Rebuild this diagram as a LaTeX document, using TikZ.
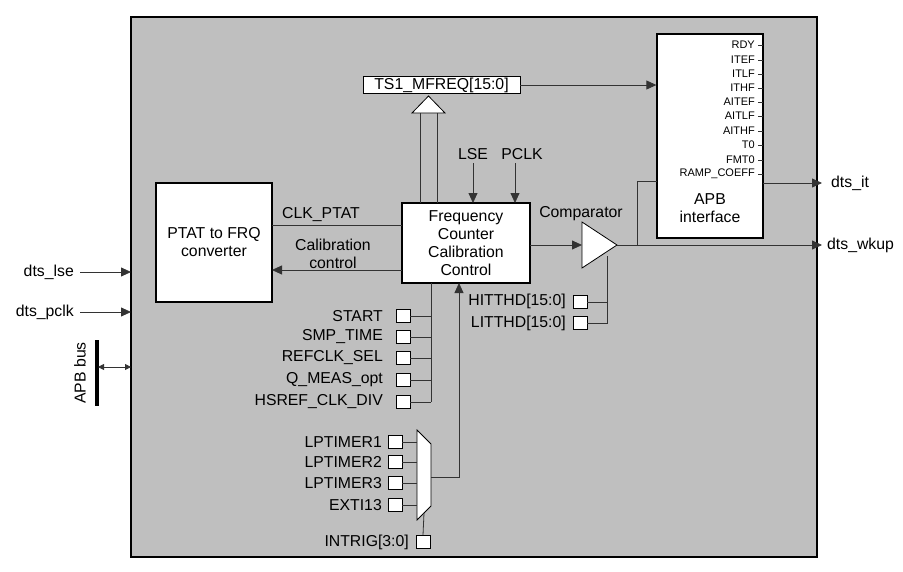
\documentclass[tikz,border=0pt]{standalone}
\usepackage{fontspec}
\setmainfont{Liberation Sans}
\usetikzlibrary{arrows.meta}
\begin{document}
\begin{tikzpicture}[x=1pt,y=-1pt,
  blk/.style={draw,line width=1.3pt,fill=white},
  wire/.style={draw,line width=0.8pt,black!80},
  arr/.style={wire,-{Triangle[length=10pt,width=9pt]}},
  reg/.style={draw,line width=0.7pt,fill=white,minimum width=14pt,minimum height=13pt,inner sep=0},
  lbl/.style={font=\fontsize{15.8}{18}\selectfont,inner sep=1pt},
  sml/.style={font=\fontsize{11}{12}\selectfont,inner sep=0,anchor=east}]
\useasboundingbox (0,0) rectangle (903,571);
\draw[line width=1.3pt,fill=black!25] (131,17) rectangle (817,557);
% blocks
\node[blk,minimum width=116pt,minimum height=119pt,align=center,lbl] (ptat) at (214,242.5) {PTAT to FRQ\\converter};
\node[blk,minimum width=128pt,minimum height=80pt,align=center,lbl] (fcc) at (466,243) {Frequency\\Counter\\Calibration\\Control};
\node[draw,line width=0.8pt,fill=white,minimum width=157pt,minimum height=16pt,inner sep=0,lbl] (ts1) at (441.5,85) {TS1\_MFREQ[15:0]};
\node[blk,minimum width=106pt,minimum height=204pt] (apb) at (710,136) {};
\node[lbl,align=center] (apbt) at (710,208) {APB\\interface};
\foreach \t/\y in {RDY/45,ITEF/60,ITLF/74,ITHF/88,AITEF/102,AITLF/116,AITHF/131,T0/145,FMT0/160,RAMP\_COEFF/174}{
  \node[sml] (s\y) at (755,\y) {\t};
  \draw[wire] (758,\y) -- (763,\y);
}
% comparator
\draw[line width=0.8pt,fill=white] (582,222) -- (617,245) -- (582,268) -- cycle;
\coordinate (cmpin) at (582,245);
\coordinate (cmpout) at (617,245);
\node[lbl] (cmpl) at (581,214) {Comparator};
% hollow arrow
\draw[wire] (420,203) -- (420,113);
\draw[wire] (437,203) -- (437,113);
\draw[line width=0.8pt,fill=white] (412,113) -- (428.5,96) -- (445,113) -- cycle;
\draw[arr] (ts1.east) -- (apb.west |- ts1.east);
% LSE / PCLK
\node[lbl] (lse) at (473,154) {LSE};
\node[lbl] (pclk) at (522,154) {PCLK};
\draw[arr] (473,163) -- (473,203);
\draw[arr] (515,163) -- (515,203);
% PTAT links
\draw[wire] (272,225) -- (402,225);
\node[lbl] (clkp) at (321,215) {CLK\_PTAT};
\draw[arr] (402,270) -- (272,270);
\node[lbl,align=center] (calc) at (333,254) {Calibration\\control};
% FCC to comparator
\draw[arr] (530,245) -- (cmpin);
\draw[arr] (cmpout) -- (822,245);
\draw[wire] (637,245) -- (637,181) -- (657,181);
\draw[arr] (763,183) -- (822,183);
\node[lbl,anchor=west] (dit) at (830,183) {dts\_it};
\node[lbl,anchor=west] (dwk) at (826,245) {dts\_wkup};
% thresholds
\node[reg] (hit) at (580,302) {};
\node[reg] (lit) at (580,323) {};
\node[lbl,anchor=east] at (567,301) {HITTHD[15:0]};
\node[lbl,anchor=east] at (567,323) {LITTHD[15:0]};
\draw[wire] (607,256) -- (607,323) -- (lit.east);
\draw[wire] (hit.east) -- (607,302);
% left inputs
\node[lbl,anchor=east] (lse2) at (75,272) {dts\_lse};
\node[lbl,anchor=east] (pck2) at (75,312) {dts\_pclk};
\draw[arr] (80,272) -- (131,272);
\draw[arr] (80,312) -- (131,312);
\draw[line width=3.5pt] (97,340) -- (97,406);
\draw[wire,{Triangle[length=6pt,width=6pt]}-{Triangle[length=6pt,width=6pt]}] (98,367) -- (131,367);
\node[lbl,rotate=90] (apbbus) at (80,373) {APB bus};
% registers
\draw[wire] (431,283) -- (431,402);
\foreach \t/\y in {START/316,SMP\_TIME/337,REFCLK\_SEL/358,Q\_MEAS\_opt/380,HSREF\_CLK\_DIV/402}{
  \node[reg] (r\y) at (403,\y) {};
  \node[lbl,anchor=east] at (384,\y) {\t};
  \draw[wire] (r\y.east) -- (431,\y);
}
% mux
\draw[line width=0.8pt,fill=white] (417,430) -- (431,444) -- (431,506) -- (417,520) -- cycle;
\foreach \t/\y in {LPTIMER1/442,LPTIMER2/462,LPTIMER3/483,EXTI13/505}{
  \node[reg] (m\y) at (395,\y) {};
  \node[lbl,anchor=east] at (383,\y) {\t};
  \draw[wire] (m\y.east) -- (417,\y);
}
\draw[arr] (431,477) -- (459,477) -- (459,283);
\node[reg] (intr) at (423,542) {};
\node[lbl,anchor=east] at (410,542) {INTRIG[3:0]};
\draw[wire] (424,513) -- (intr.north);
\end{tikzpicture}
\end{document}
